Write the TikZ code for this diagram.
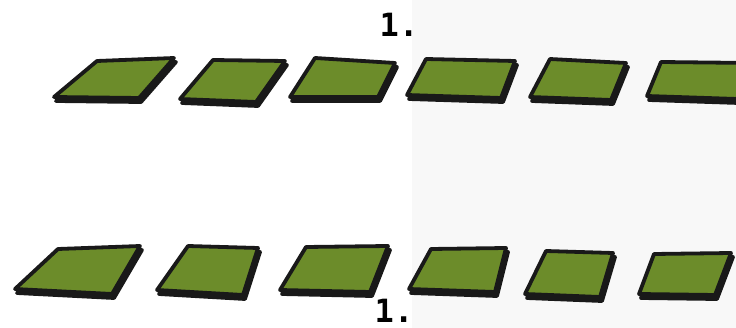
\documentclass[tikz,border=0pt]{standalone}
\usepackage{fontspec}
\newfontfamily\labelfont{DejaVu Sans Mono}
\definecolor{tilegreen}{RGB}{108,140,42}
\definecolor{paper}{RGB}{248,248,248}
\tikzset{
  tile/.style={fill=tilegreen,draw=black!90,line width=3.8pt,line join=round},
  tileshadow/.style={fill=black!90,draw=black!90,line width=3.8pt,line join=round,shift={(2,4)}},
  steplabel/.style={font=\labelfont\bfseries\fontsize{32}{32}\selectfont,inner sep=0pt,anchor=base,text depth=0pt}
}
\begin{document}
\begin{tikzpicture}[x=1pt,y=-1pt]
      \useasboundingbox (0,0) rectangle (736,328);
      \fill[paper] (412,0) rectangle (736,328);
      \node[steplabel] (onetop) at (399,37) {1.};
      \node[steplabel] (onebottom) at (394,323) {1.};
      % top row
      \draw[tileshadow] (97,61) -- (174,58) -- (139,98) -- (54,97) -- cycle;
      \draw[tile] (97,61) -- (174,58) -- (139,98) -- (54,97) -- cycle;
      \draw[tileshadow] (213,60) -- (285,61) -- (256,102) -- (180,99) -- cycle;
      \draw[tile] (213,60) -- (285,61) -- (256,102) -- (180,99) -- cycle;
      \draw[tileshadow] (315,58) -- (395,63) -- (378,97) -- (290,97) -- cycle;
      \draw[tile] (315,58) -- (395,63) -- (378,97) -- (290,97) -- cycle;
      \draw[tileshadow] (426,59) -- (515,61) -- (501,98) -- (407,95) -- cycle;
      \draw[tile] (426,59) -- (515,61) -- (501,98) -- (407,95) -- cycle;
      \draw[tileshadow] (550,59) -- (626,63) -- (611,100) -- (530,97) -- cycle;
      \draw[tile] (550,59) -- (626,63) -- (611,100) -- (530,97) -- cycle;
      \draw[tileshadow] (661,62) -- (752,63) -- (737,99) -- (647,96) -- cycle;
      \draw[tile] (661,62) -- (752,63) -- (737,99) -- (647,96) -- cycle;
      % bottom row
      \draw[tileshadow] (58,249) -- (140,246) -- (112,294) -- (15,289) -- cycle;
      \draw[tile] (58,249) -- (140,246) -- (112,294) -- (15,289) -- cycle;
      \draw[tileshadow] (188,246) -- (258,248) -- (243,295) -- (157,290) -- cycle;
      \draw[tile] (188,246) -- (258,248) -- (243,295) -- (157,290) -- cycle;
      \draw[tileshadow] (306,247) -- (388,246) -- (370,292) -- (280,290) -- cycle;
      \draw[tile] (306,247) -- (388,246) -- (370,292) -- (280,290) -- cycle;
      \draw[tileshadow] (431,249) -- (506,248) -- (495,292) -- (409,289) -- cycle;
      \draw[tile] (431,249) -- (506,248) -- (495,292) -- (409,289) -- cycle;
      \draw[tileshadow] (546,251) -- (613,253) -- (600,297) -- (525,294) -- cycle;
      \draw[tile] (546,251) -- (613,253) -- (600,297) -- (525,294) -- cycle;
      \draw[tileshadow] (654,254) -- (731,253) -- (715,295) -- (639,294) -- cycle;
      \draw[tile] (654,254) -- (731,253) -- (715,295) -- (639,294) -- cycle;
\end{tikzpicture}
\end{document}
